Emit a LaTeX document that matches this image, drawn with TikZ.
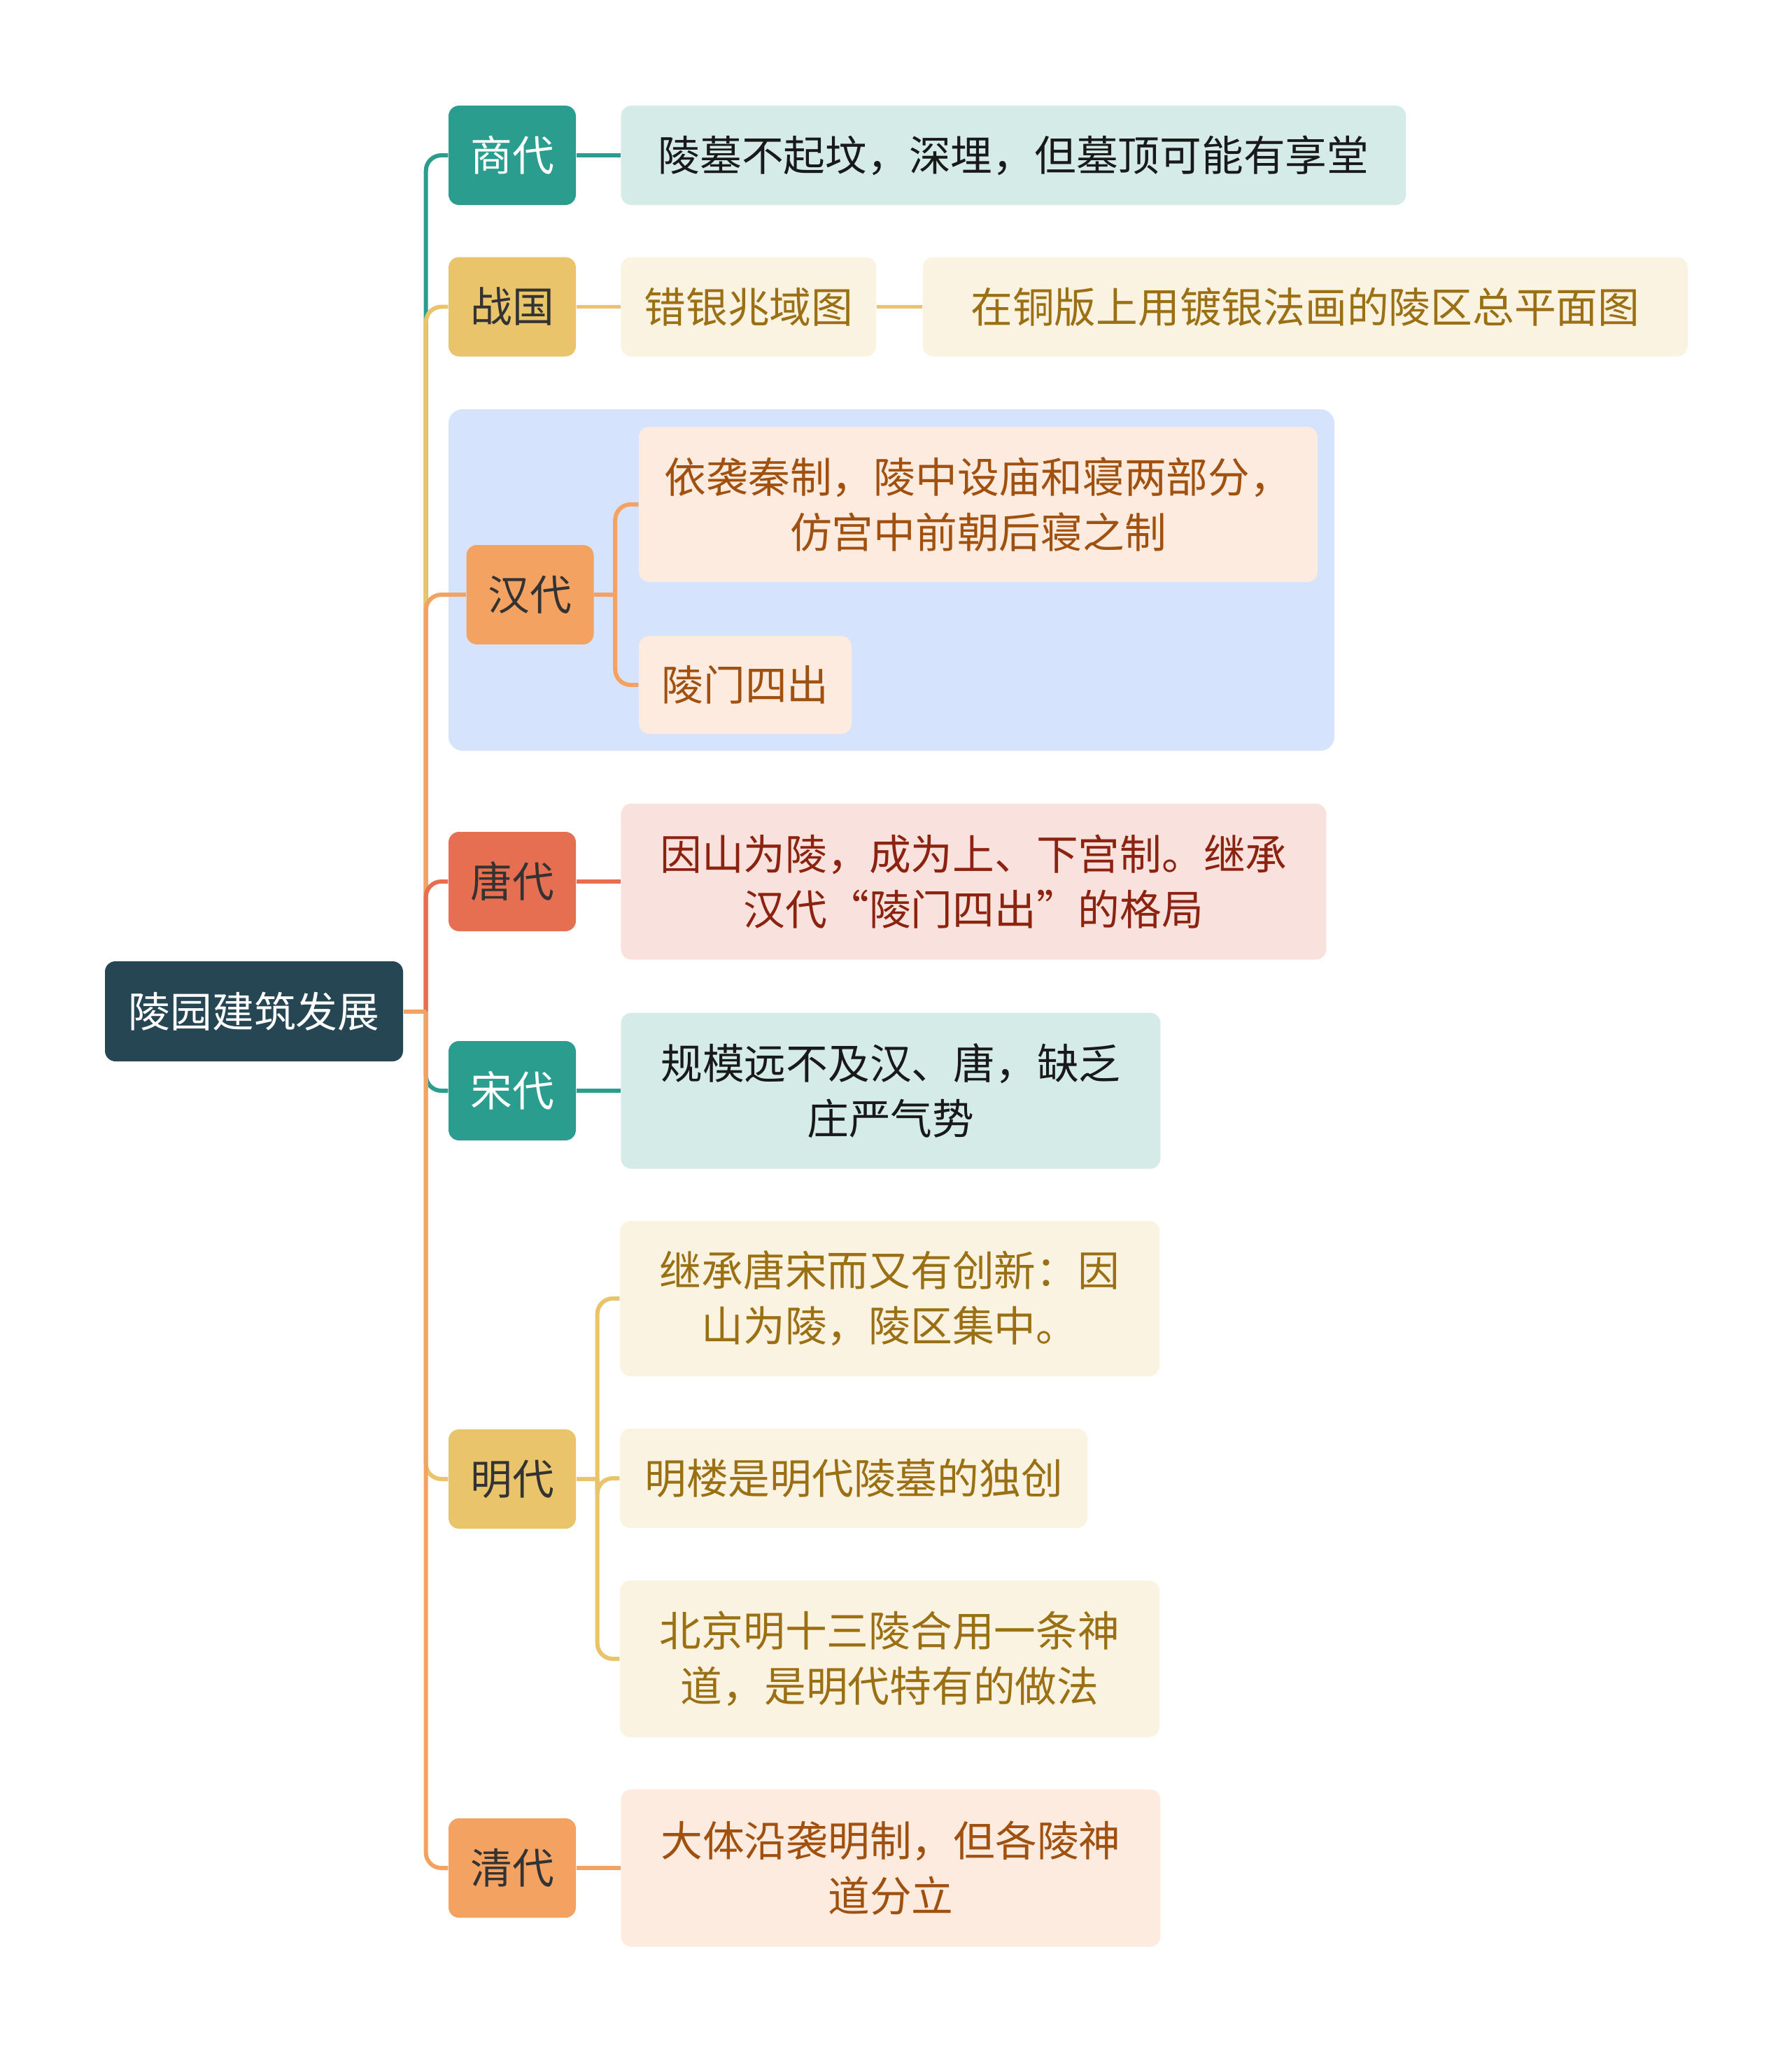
\documentclass[tikz,border=0pt]{standalone}
\usepackage{fontspec}
\setmainfont{Noto Sans CJK SC}
\usepackage{xcolor}
\usetikzlibrary{positioning}

\definecolor{cdark}{HTML}{264653}
\definecolor{cteal}{HTML}{2A9D8F}
\definecolor{cyel}{HTML}{E9C46A}
\definecolor{corg}{HTML}{F4A261}
\definecolor{cred}{HTML}{E76F51}
\definecolor{lteal}{HTML}{D5EBE8}
\definecolor{lyel}{HTML}{FBF3E1}
\definecolor{lorg}{HTML}{FDEBDF}
\definecolor{lred}{HTML}{F9E2DD}
\definecolor{lblue}{HTML}{D5E3FC}
\definecolor{tgold}{RGB}{155,112,20}
\definecolor{tbrown}{RGB}{160,80,15}
\definecolor{tdred}{RGB}{139,35,16}

\begin{document}
\begin{tikzpicture}[
  node distance=6.3mm,
  every node/.style={font=\fontsize{17}{22.5}\selectfont, align=center, inner sep=0pt},
  root/.style={fill=cdark, text=white, rounded corners=1.5mm,
    minimum width=4.26cm, minimum height=1.43cm},
  era/.style={fill=#1, text=black!80, rounded corners=1.5mm,
    minimum width=1.82cm, minimum height=1.42cm},
  note/.style={fill=#1, rounded corners=1.5mm, minimum height=1.42cm},
  link/.style={line width=1.7pt, rounded corners=2.2mm}
]
\useasboundingbox (0,0) rectangle (25.6,-29.33);
\fill[lblue, rounded corners=2mm] (6.41,-5.85) rectangle (19.07,-10.73);

\node[root] (root) at (3.63,-14.455) {陵园建筑发展};
\coordinate[right=3.2mm of root] (hub);

\node[era=cteal, text=white] (shang) at (7.32,-2.22) {商代};
\node[era=cyel] (zhan) at (7.32,-4.385) {战国};
\node[era=corg] (han) at (7.575,-8.50) {汉代};
\node[era=cred] (tang) at (7.32,-12.60) {唐代};
\node[era=cteal, text=white] (song) at (7.32,-15.59) {宋代};
\node[era=cyel] (ming) at (7.32,-21.14) {明代};
\node[era=corg] (qing) at (7.32,-26.70) {清代};

\node[note=lteal, text=black!90, minimum width=11.22cm, right=of shang] (shangA)
  {陵墓不起坟，深埋，但墓顶可能有享堂};
\node[note=lyel, text=tgold, minimum width=3.65cm, right=of zhan] (zhanA) {错银兆域图};
\node[note=lyel, text=tgold, minimum width=10.93cm, right=6.5mm of zhanA] (zhanB)
  {在铜版上用镀银法画的陵区总平面图};
\node[note=lorg, text=tbrown, minimum width=9.70cm, minimum height=2.22cm] (hanA)
  at (13.98,-7.21) {依袭秦制，陵中设庙和寝两部分，\\仿宫中前朝后寝之制};
\node[note=lorg, text=tbrown, minimum width=3.04cm, minimum height=1.40cm] (hanB)
  at (10.65,-9.79) {陵门四出};
\node[note=lred, text=tdred, minimum width=10.08cm, minimum height=2.23cm, right=of tang] (tangA)
  {因山为陵，成为上、下宫制。继承\\汉代“陵门四出”的格局};
\node[note=lteal, text=black!90, minimum width=7.71cm, minimum height=2.23cm, right=of song] (songA)
  {规模远不及汉、唐，缺乏\\庄严气势};
\node[note=lyel, text=tgold, minimum width=7.71cm, minimum height=2.22cm] (mingA)
  at (12.715,-18.56) {继承唐宋而又有创新：因\\山为陵，陵区集中。};
\node[note=lyel, text=tgold, minimum width=6.68cm] (mingB)
  at (12.20,-21.13) {明楼是明代陵墓的独创};
\node[note=lyel, text=tgold, minimum width=7.71cm, minimum height=2.24cm] (mingC)
  at (12.715,-23.71) {北京明十三陵合用一条神\\道，是明代特有的做法};
\node[note=lorg, text=tbrown, minimum width=7.71cm, minimum height=2.25cm, right=of qing] (qingA)
  {大体沿袭明制，但各陵神\\道分立};

% main branches
\foreach \n/\c in {shang/cteal, zhan/cyel, han/corg, tang/cred, song/cteal, ming/cyel, qing/corg}
  \draw[link, \c] (hub) |- (\n.west);
\draw[link, corg] (root.east) -- (hub);

% sub branches
\draw[link, cteal] (shang) -- (shangA);
\draw[link, cyel] (zhan) -- (zhanA);
\draw[link, cyel] (zhanA) -- (zhanB);
\coordinate[right=3mm of han] (hanhub);
\draw[link, corg] (han.east) -- (hanhub);
\draw[link, corg] (hanhub) |- (hanA.west);
\draw[link, corg] (hanhub) |- (hanB.west);
\draw[link, cred] (tang) -- (tangA);
\draw[link, cteal] (song) -- (songA);
\coordinate[right=3mm of ming] (minghub);
\draw[link, cyel] (ming.east) -- (minghub);
\draw[link, cyel] (minghub) |- (mingA.west);
\draw[link, cyel] (minghub) |- (mingB.west);
\draw[link, cyel] (minghub) |- (mingC.west);
\draw[link, corg] (qing) -- (qingA);
\end{tikzpicture}
\end{document}
